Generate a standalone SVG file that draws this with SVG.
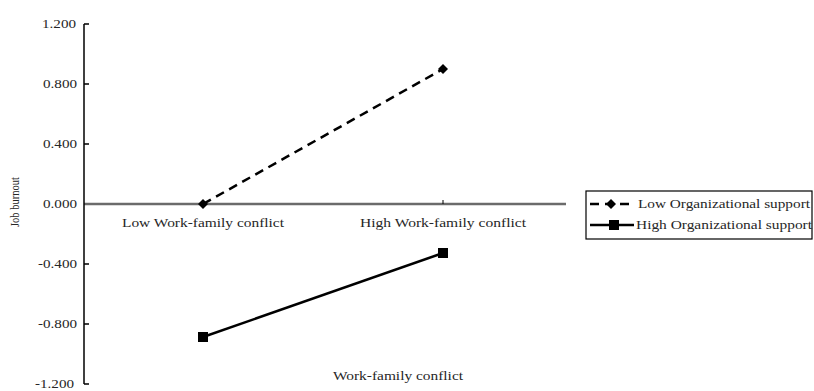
<svg xmlns="http://www.w3.org/2000/svg" width="814" height="391" viewBox="0 0 814 391">
<style>
text{font-family:"Liberation Serif","Times New Roman",serif;fill:#262626;}
.tk{font-size:12px;text-anchor:end;}
.cat{font-size:12px;text-anchor:middle;}
.lg{font-size:12px;}
.axis{stroke:#000;stroke-width:1.5;fill:none;}
.zero{stroke:#6b6b6b;stroke-width:2.5;}
.dash{stroke:#000;stroke-width:2.5;stroke-dasharray:9 6;fill:none;}
.solid{stroke:#000;stroke-width:2.5;fill:none;}
</style>
<defs>
<path id="dia" d="M0,-5 L5,0 L0,5 L-5,0Z" fill="#000"/>
<rect id="sq" x="-5" y="-5" width="10" height="10" fill="#000"/>
</defs>
<rect width="814" height="391" fill="#fff"/>
<g id="axes">
<line class="zero" x1="84" y1="204" x2="566" y2="204"/>
<path class="axis" d="M84,24 V384"/>
<path class="axis" d="M84,24 H89 M84,84 H89 M84,144 H89 M84,264 H89 M84,324 H89 M84,384 H89"/>
<line x1="443" y1="200" x2="443" y2="204" stroke="#000" stroke-width="1"/>
<text class="tk" x="76" y="28" textLength="34" lengthAdjust="spacingAndGlyphs">1.200</text>
<text class="tk" x="77" y="88" textLength="34" lengthAdjust="spacingAndGlyphs">0.800</text>
<text class="tk" x="77" y="148" textLength="34" lengthAdjust="spacingAndGlyphs">0.400</text>
<text class="tk" x="77" y="208" textLength="34" lengthAdjust="spacingAndGlyphs">0.000</text>
<text class="tk" x="77" y="268" textLength="39" lengthAdjust="spacingAndGlyphs">-0.400</text>
<text class="tk" x="77" y="328" textLength="39" lengthAdjust="spacingAndGlyphs">-0.800</text>
<text class="tk" x="74" y="388" textLength="39" lengthAdjust="spacingAndGlyphs">-1.200</text>
<text class="cat" x="203" y="227" textLength="162" lengthAdjust="spacingAndGlyphs">Low Work-family conflict</text>
<text class="cat" x="443" y="227" textLength="166" lengthAdjust="spacingAndGlyphs">High Work-family conflict</text>
<text class="cat" x="398" y="380" textLength="130" lengthAdjust="spacingAndGlyphs">Work-family conflict</text>
<text font-size="12" text-anchor="middle" transform="translate(19,202) rotate(-90)" textLength="50" lengthAdjust="spacingAndGlyphs">Job burnout</text>
</g>
<g id="connectors">
<line class="dash" x1="203" y1="204" x2="443" y2="69"/>
<line class="solid" x1="203" y1="337" x2="443" y2="253"/>
</g>
<g id="low-series">
<use href="#dia" x="203" y="204"/>
<use href="#dia" x="443" y="69"/>
</g>
<g id="high-series">
<use href="#sq" x="203" y="337"/>
<use href="#sq" x="443" y="253"/>
</g>
<g id="legend">
<rect x="586" y="191" width="226" height="48" fill="#fff" stroke="#000" stroke-width="1.2"/>
<line class="dash" x1="590" y1="204" x2="630" y2="204" stroke-dasharray="8 5"/>
<use href="#dia" x="611" y="204"/>
<text class="lg" x="638" y="208" textLength="172" lengthAdjust="spacingAndGlyphs">Low Organizational support</text>
<line class="solid" x1="590" y1="225" x2="634" y2="225"/>
<use href="#sq" x="614" y="225"/>
<text class="lg" x="636" y="229" textLength="176" lengthAdjust="spacingAndGlyphs">High Organizational support</text>
</g>
</svg>
